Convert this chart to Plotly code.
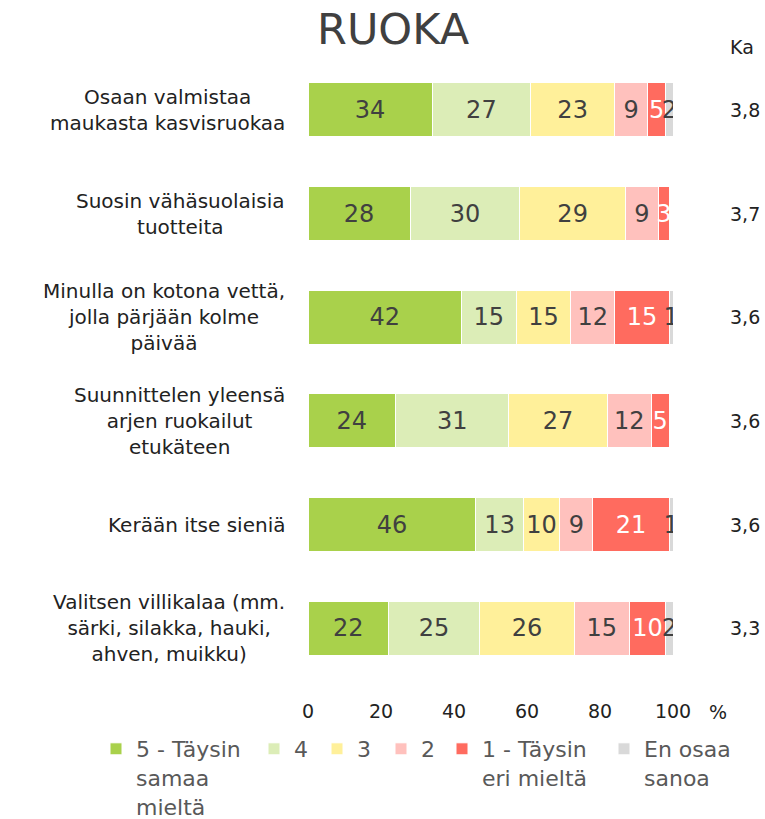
import plotly.graph_objects as go

categories = [
    "Osaan valmistaa<br>maukasta kasvisruokaa",
    "Suosin vähäsuolaisia<br>tuotteita",
    "Minulla on kotona vettä,<br>jolla pärjään kolme<br>päivää",
    "Suunnittelen yleensä<br>arjen ruokailut<br>etukäteen",
    "Kerään itse sieniä",
    "Valitsen villikalaa (mm.<br>särki, silakka, hauki,<br>ahven, muikku)",
]
series_names = ["5 - Täysin<br>samaa<br>mieltä", "4", "3", "2", "1 - Täysin<br>eri mieltä", "En osaa<br>sanoa"]
s5 = [34, 28, 42, 24, 46, 22]
s4 = [27, 30, 15, 31, 13, 25]
s3 = [23, 29, 15, 27, 10, 26]
s2 = [9, 9, 12, 12, 9, 15]
s1 = [5, 3, 15, 5, 21, 10]
s0 = [2, 0, 1, 0, 1, 2]
ka = ["3,8", "3,7", "3,6", "3,6", "3,6", "3,3"]
x_ticks = [0, 20, 40, 60, 80, 100]

colors = ["#a9d14b", "#dcedb7", "#fff09a", "#ffc1bd", "#ff6b5f", "#d9d9d9"]
text_colors = ["#404040", "#404040", "#404040", "#404040", "#ffffff", "#404040"]
FONT = "DejaVu Sans"

W, H = 765, 819
PL, PR, PT, PB = 308, 673, 58, 680  # plot area in pixels
L, R, T, B = PL, W - PR, PT, H - PB
pw = PR - PL
ph = PB - PT


def px(xp):
    return (xp - PL) / pw


def py(yp):
    return (PB - yp) / ph


fig = go.Figure()
legend_sym = [113, 271, 334, 398, 459, 621]
all_series = [s5, s4, s3, s2, s1, s0]
for i, (name, vals) in enumerate(zip(series_names, all_series)):
    lg = "legend" if i == 0 else f"legend{i+1}"
    fig.add_trace(go.Bar(
        y=categories, x=vals, orientation="h", name=name,
        marker=dict(color=colors[i], line=dict(color="white", width=1)),
        text=[str(v) if v > 0 else "" for v in vals],
        textposition="inside", insidetextanchor="middle", textangle=0,
        textfont=dict(size=24, color=text_colors[i], family=FONT),
        constraintext="none",
        width=0.52, legend=lg, hoverinfo="skip",
    ))
    fig.update_layout(**{lg: dict(
        x=px(legend_sym[i] - 17), y=py(728),
        xanchor="left", yanchor="top", orientation="h", valign="top",
        font=dict(size=22, color="#595959", family=FONT),
        bgcolor="rgba(0,0,0,0)", itemwidth=30, tracegroupgap=0,
    )})

annotations = []
for c in categories:
    annotations.append(dict(
        x=px(287), xref="paper", y=c, yref="y", text=c, showarrow=False,
        xanchor="right", yanchor="middle", align="center",
        font=dict(size=20, color="#222222", family=FONT),
    ))
for c, k in zip(categories, ka):
    annotations.append(dict(
        x=px(745), xref="paper", y=c, yref="y", text=k, showarrow=False,
        xanchor="center", yanchor="middle",
        font=dict(size=19, color="#222222", family=FONT),
    ))
annotations.append(dict(x=px(742), xref="paper", y=py(47), yref="paper",
                        text="Ka", showarrow=False, xanchor="center", yanchor="middle",
                        font=dict(size=19, color="#222222", family=FONT)))
annotations.append(dict(x=px(718), xref="paper", y=py(712), yref="paper",
                        text="%", showarrow=False, xanchor="center", yanchor="middle",
                        font=dict(size=19, color="#222222", family=FONT)))
annotations.append(dict(x=px(393), xref="paper", y=py(29), yref="paper",
                        text="RUOKA", showarrow=False, xanchor="center", yanchor="middle",
                        font=dict(size=43, color="#404040", family=FONT)))

fig.update_layout(
    width=W, height=H, barmode="stack",
    margin=dict(l=L, r=R, t=T, b=B, autoexpand=False),
    plot_bgcolor="white", paper_bgcolor="white",
    annotations=annotations,
    uniformtext=dict(minsize=24, mode="show"),
    xaxis=dict(range=[0, 100], tickvals=x_ticks, showgrid=False, zeroline=False,
               showline=False, ticks="outside", ticklen=14, tickcolor="rgba(0,0,0,0)",
               tickfont=dict(size=19, color="#222222", family=FONT), fixedrange=True),
    yaxis=dict(autorange="reversed", showticklabels=False, showgrid=False,
               zeroline=False, showline=False, ticks="", fixedrange=True),
    showlegend=True,
)
fig.write_html("out.html", config={"displayModeBar": False},
               post_script="document.body.style.margin='0';document.body.style.overflow='hidden';")
